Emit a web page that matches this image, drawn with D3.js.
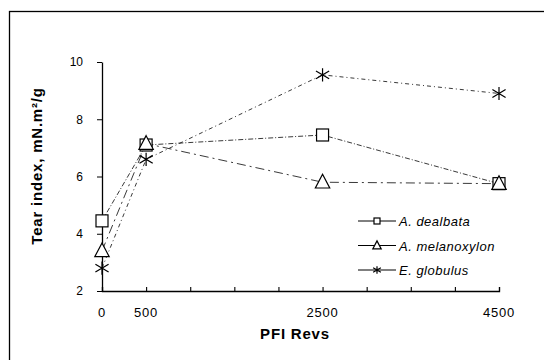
<!DOCTYPE html>
<html>
<head>
<meta charset="utf-8">
<script src="https://cdn.jsdelivr.net/npm/d3@7"></script>
<style>
  body { margin: 0; background: #fff; }
  svg { display: block; font-family: "Liberation Sans", Arial, sans-serif; }
</style>
</head>
<body>
<svg id="chart" width="544" height="360"></svg>
<script>
const revs = [0, 500, 2500, 4500];
const xTickLabels = [0, 500, 2500, 4500];
const xMinorTicks = [0, 500, 1000, 1500, 2000, 2500, 3000, 3500, 4000, 4500];
const yTicks = [2, 4, 6, 8, 10];

const dealbata = [4.45, 7.1, 7.45, 5.75];
const melanoxylon = [3.4, 7.15, 5.8, 5.75];
const globulus = [2.8, 6.6, 9.55, 8.9];

const seriesNames = ["A. dealbata", "A. melanoxylon", "E. globulus"];
const seriesValues = [dealbata, melanoxylon, globulus];
const seriesMarks = ["square", "triangle", "star"];
const seriesDash = ["5,2,1,2", "9,4,2,4", "4,3,1,3"];

const svg = d3.select("#chart");
const margin = { left: 102, right: 45, top: 62, bottom: 69 };
const width = 544 - margin.left - margin.right;
const height = 360 - margin.top - margin.bottom;

// frame of the scanned figure
svg.append("rect")
  .attr("x", 9.5).attr("y", 11.5)
  .attr("width", 560).attr("height", 360)
  .attr("fill", "none").attr("stroke", "#000").attr("stroke-width", 1.3);

const g = svg.append("g").attr("transform", `translate(${margin.left},${margin.top})`);

const x = d3.scaleLinear().domain([0, 4500]).range([0, width]);
const y = d3.scaleLinear().domain([2, 10]).range([height, 0]);

// x axis
const xAxis = g.append("g").attr("transform", `translate(0,${height})`);
xAxis.call(d3.axisBottom(x).tickValues(xMinorTicks).tickSize(-4).tickFormat(""));
xAxis.select(".domain").attr("stroke-width", 1.3);
xAxis.selectAll("line").attr("stroke-width", 1.1);
xAxis.selectAll(".lbl")
  .data(xTickLabels)
  .join("text")
  .attr("class", "lbl")
  .attr("x", d => x(d))
  .attr("y", 26)
  .attr("text-anchor", "middle")
  .attr("font-size", 13)
  .attr("letter-spacing", 0.8)
  .attr("fill", "#000")
  .text(d => d);

// y axis
const yAxis = g.append("g");
yAxis.call(d3.axisLeft(y).tickValues(yTicks).tickSize(5).tickPadding(14).tickSizeOuter(0));
yAxis.select(".domain").attr("stroke-width", 1.3);
yAxis.selectAll("text").attr("font-size", 12).attr("fill", "#000");

// axis titles
svg.append("text")
  .attr("transform", "translate(42,166) rotate(-90)")
  .attr("text-anchor", "middle")
  .attr("font-size", 15)
  .attr("font-weight", "bold")
  .attr("letter-spacing", 0.8)
  .text("Tear index, mN.m²/g");

svg.append("text")
  .attr("x", 295).attr("y", 339)
  .attr("text-anchor", "middle")
  .attr("font-size", 15)
  .attr("font-weight", "bold")
  .attr("letter-spacing", 0.8)
  .text("PFI Revs");

const line = d3.line()
  .x((d, i) => x(revs[i]))
  .y(d => y(d));

function drawMarker(sel, kind, size) {
  if (kind === "square") {
    sel.append("rect")
      .attr("x", -size / 2).attr("y", -size / 2)
      .attr("width", size).attr("height", size)
      .attr("fill", "#fff").attr("stroke", "#000").attr("stroke-width", 1.2);
  } else if (kind === "triangle") {
    const s = size * 0.6;
    sel.append("path")
      .attr("d", `M0,${-s * 1.1}L${s},${s * 0.8}L${-s},${s * 0.8}Z`)
      .attr("fill", "#fff").attr("stroke", "#000").attr("stroke-width", 1.2);
  } else {
    const s = size * 0.55;
    sel.append("path")
      .attr("d", `M0,${-s}L0,${s}M${-s},${-s * 0.6}L${s},${s * 0.6}M${-s},${s * 0.6}L${s},${-s * 0.6}`)
      .attr("fill", "none").attr("stroke", "#000").attr("stroke-width", 1.2);
  }
}

seriesValues.forEach((vals, k) => {
  g.append("path")
    .datum(vals)
    .attr("d", line)
    .attr("fill", "none")
    .attr("stroke", "#222")
    .attr("stroke-width", 0.9)
    .attr("stroke-dasharray", seriesDash[k]);
});

seriesValues.forEach((vals, k) => {
  vals.forEach((v, i) => {
    const m = g.append("g").attr("transform", `translate(${x(revs[i])},${y(v)})`);
    drawMarker(m, seriesMarks[k], 12);
  });
});

// legend
const legend = svg.append("g").attr("transform", "translate(358,221)");
seriesNames.forEach((name, k) => {
  const row = legend.append("g").attr("transform", `translate(0,${k * 24.5})`);
  row.append("line")
    .attr("x1", 0).attr("x2", 38).attr("y1", 0).attr("y2", 0)
    .attr("stroke", "#000").attr("stroke-width", 1);
  const m = row.append("g").attr("transform", "translate(19,0)");
  drawMarker(m, seriesMarks[k], k === 0 ? 6 : 7);
  row.append("text")
    .attr("x", 41).attr("y", 5)
    .attr("font-size", 13)
    .attr("font-style", "italic")
    .attr("letter-spacing", 0.5)
    .text(name);
});
</script>
</body>
</html>
